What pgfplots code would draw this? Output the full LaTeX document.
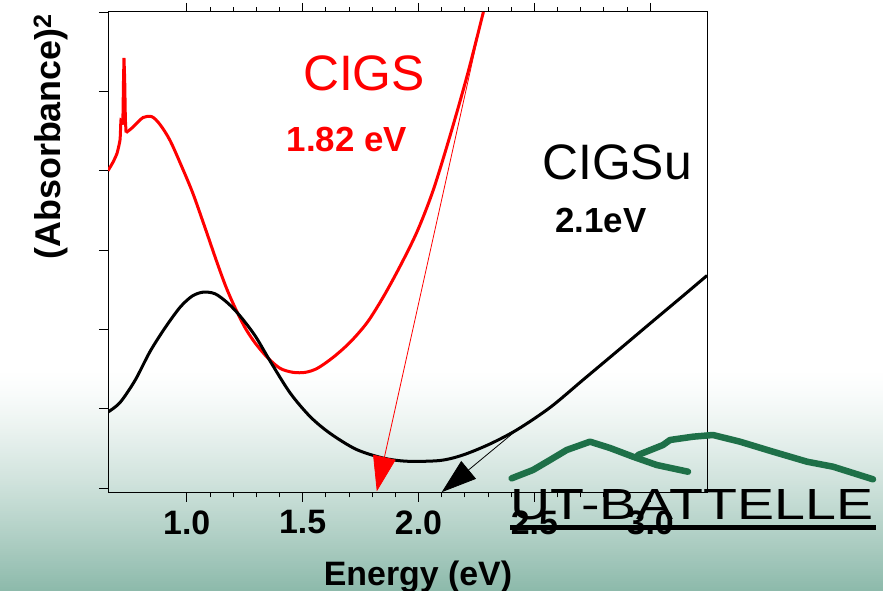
\documentclass[border=0pt]{standalone}
\usepackage{pgfplots}
\pgfplotsset{compat=1.18}
\usepackage{fontspec}
\setmainfont{Liberation Sans}
\newfontfamily\logofont{Liberation Sans}
\usetikzlibrary{arrows.meta}
\definecolor{logogreen}{RGB}{30,112,72}
\definecolor{bgteal}{RGB}{141,186,171}
\begin{document}
\begin{tikzpicture}
\fill[white] (0,0) rectangle (883bp,591bp);
\foreach \i in {0,...,110} {
  \pgfmathsetmacro\f{100*(1-\i/110)^1.3}
  \pgfmathsetlengthmacro\ya{2*\i*1bp}
  \pgfmathsetlengthmacro\yb{(2*\i+2.2)*1bp}
  \fill[bgteal!\f!white] (0,\ya) rectangle (883bp,\yb);
}
\begin{axis}[
  at={(108bp,98bp)}, anchor=south west,
  scale only axis, width=599bp, height=481bp,
  xmin=0.66, xmax=3.245, ymin=-0.06, ymax=6.0,
  xtick={1,1.5,2,2.5,3}, minor x tick num=4,
  xtick pos=both, xticklabel pos=bottom,
  ytick={0,1,2,3,4,5,6}, yticklabels={}, ytick pos=left,
  tick align=outside,
  major tick length=9bp, minor tick length=4.5bp,
  every tick/.style={black, line width=0.9bp},
  axis line style={line width=1bp},
  xticklabel shift=5bp,
  /pgf/number format/assume math mode=true,
  /pgf/number format/.cd, fixed, fixed zerofill, precision=1, /pgfplots/.cd,
  ticklabel style={font=\fontsize{34}{34}\selectfont\bfseries},
]
% CIGS (red)
\addplot[red, line width=3bp, smooth, tension=0.3] coordinates {
(0.660,4.00) (0.682,4.11) (0.699,4.22) (0.712,4.39) (0.716,4.64) (0.724,4.58)
};
\addplot[red, line width=3bp] coordinates {
(0.724,4.58) (0.727,5.15) (0.729,5.42) (0.732,5.15) (0.735,4.64) (0.738,4.48)
};
\addplot[red, line width=3bp, smooth, tension=0.5] coordinates {
(0.738,4.48) (0.768,4.55) (0.811,4.67) (0.850,4.68) (0.885,4.58) (0.928,4.38)
(0.980,4.04) (1.027,3.71) (1.079,3.28) (1.131,2.84) (1.170,2.53) (1.209,2.27)
(1.252,2.02) (1.295,1.83) (1.347,1.65) (1.403,1.51) (1.459,1.46) (1.511,1.46)
(1.563,1.51) (1.632,1.65) (1.705,1.84) (1.779,2.09) (1.848,2.41) (1.921,2.80)
(1.995,3.24) (2.064,3.76) (2.137,4.45) (2.211,5.21) (2.280,6.00)
};
% CIGSu (black)
\addplot[black, line width=3bp, smooth, tension=0.5] coordinates {
(0.660,0.96) (0.712,1.08) (0.777,1.36) (0.841,1.72) (0.906,2.02) (0.971,2.28)
(1.023,2.42) (1.070,2.47) (1.122,2.45) (1.178,2.33) (1.230,2.17) (1.295,1.92)
(1.360,1.60) (1.446,1.20) (1.533,0.90) (1.619,0.69) (1.731,0.49) (1.848,0.38)
(1.952,0.34) (2.094,0.35) (2.193,0.42) (2.310,0.56) (2.427,0.74) (2.569,1.02)
(2.712,1.37) (2.859,1.73) (3.001,2.08) (3.144,2.43) (3.245,2.68)
};
% tangent lines with arrows
\addplot[red, line width=0.8bp, -{Triangle[length=35bp,width=23bp]}] coordinates {(2.280,6.00) (1.82,-0.04)};
\addplot[black, line width=0.8bp, -{Triangle[length=35bp,width=23bp]}] coordinates {(2.427,0.74) (2.10,-0.05)};
\end{axis}
% annotations
\node[anchor=base, red, font=\fontsize{50}{50}\selectfont] at (364bp,500bp) {CIGS};
\node[anchor=base, red, font=\fontsize{35}{35}\selectfont\bfseries] at (347bp,439bp) {1.82 eV};
\node[anchor=base, black, font=\fontsize{50}{50}\selectfont] at (617bp,411bp) {CIGSu};
\node[anchor=base, black, font=\fontsize{35}{35}\selectfont\bfseries] at (601bp,358bp) {2.1eV};
% axis labels
\node[anchor=base, font=\fontsize{34}{34}\selectfont\bfseries] at (418bp,6bp) {Energy (eV)};
\node[rotate=90, anchor=base west, font=\fontsize{36}{36}\selectfont\bfseries] at (60bp,328bp) {(Absorbance)\textsuperscript{2}};
% logo
\draw[logogreen, line width=6.5bp, line cap=round, line join=round]
 (511.7bp,112.7bp) -- (533bp,121bp) -- (550bp,131bp) -- (566.7bp,141bp) -- (590bp,149.3bp)
 -- (610bp,143bp) -- (633bp,134.3bp) -- (656.7bp,126bp) -- (688bp,119.3bp);
\draw[logogreen, line width=6.5bp, line cap=round, line join=round]
 (638bp,136bp) -- (663bp,146bp) -- (670bp,151bp) -- (693bp,154.3bp) -- (713bp,156bp)
 -- (740bp,149.3bp) -- (773bp,139.3bp) -- (807bp,129.3bp) -- (833bp,124.3bp) -- (873bp,111.7bp);
\node[anchor=south west, inner sep=0pt] at (510bp,71bp) {\resizebox{363bp}{30bp}{\logofont UT-BATTELLE}};
\draw[line width=5bp] (510bp,63bp) -- (876bp,63bp);
\pgfresetboundingbox
\path (0,0) rectangle (883bp,591bp);
\end{tikzpicture}
\end{document}
